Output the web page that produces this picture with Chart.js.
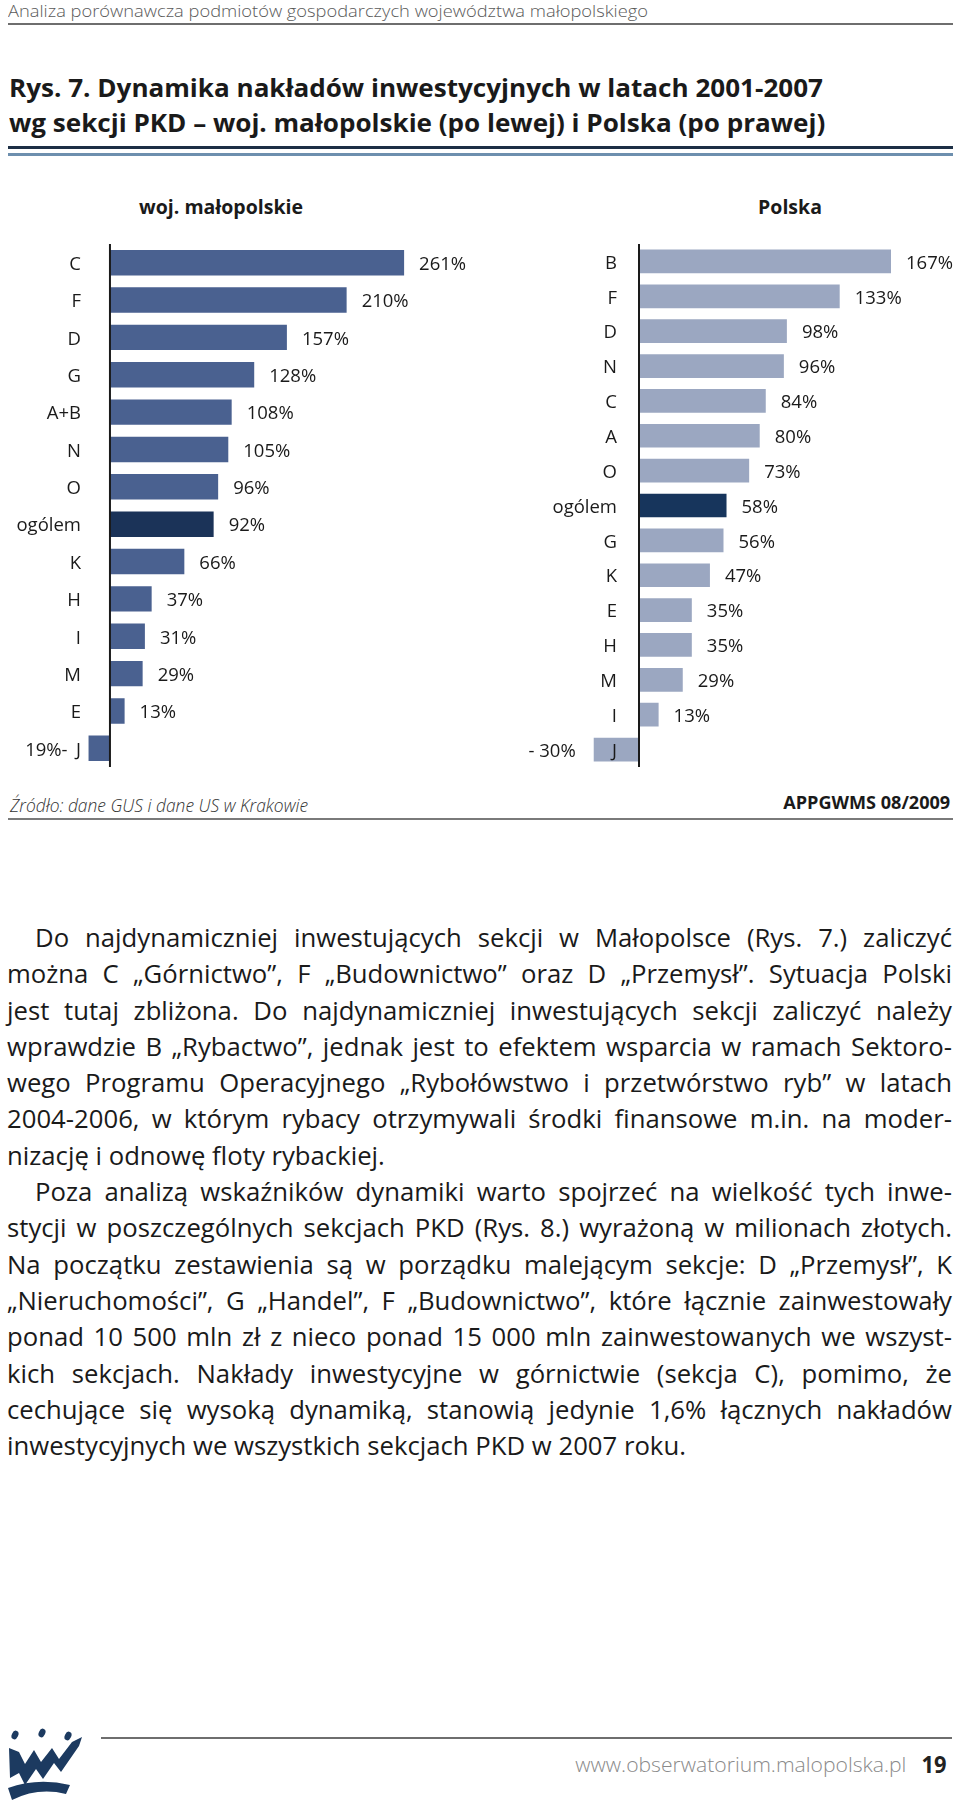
<!DOCTYPE html>
<html lang="pl">
<head>
<meta charset="utf-8">
<script src="https://cdn.jsdelivr.net/npm/chart.js@4.4.1/dist/chart.umd.min.js"></script>
<style>
  html, body { margin: 0; padding: 0; background: #fff; }
  body { width: 960px; height: 1804px; position: relative; overflow: hidden; font-family: "Open Sans", sans-serif; color: #1a1a1a; }
  .abs { position: absolute; white-space: nowrap; }
  .rule { position: absolute; }
  .fit { display: inline-block; transform-origin: left center; }
  .title { font-weight: 700; font-size: 25px; line-height: 35px; }
  .sub { font-weight: 700; font-size: 19.5px; line-height: 24px; transform: translateX(-50%); }
  .text { position: absolute; left: 7px; top: 919px; transform-origin: left top; font-size: 26px; line-height: 36.3px; }
  .ln { white-space: nowrap; }
  .ln.j { text-align: justify; text-align-last: justify; }
  canvas { position: absolute; }
</style>
</head>
<body>

<div class="abs" style="left:8px; top:0px; font-size:17px; line-height:22px; color:#5a5a5a; font-weight:300;">
  <span class="fit" data-w="640">Analiza porównawcza podmiotów gospodarczych województwa małopolskiego</span>
</div>
<div class="rule" style="left:8px; top:23px; width:945px; height:1.5px; background:#6e6e6e;"></div>

<div class="abs title" style="left:9px; top:70px;">
  <span class="fit" data-w="814">Rys. 7. Dynamika nakładów inwestycyjnych w latach 2001-2007</span>
</div>
<div class="abs title" style="left:9px; top:105px;">
  <span class="fit" data-same="814">wg sekcji PKD – woj. małopolskie (po lewej) i Polska (po prawej)</span>
</div>
<div class="rule" style="left:8px; top:146px; width:945px; height:3px; background:#1d2f45;"></div>
<div class="rule" style="left:8px; top:153px; width:945px; height:3px; background:#6d8fae;"></div>

<div class="abs sub" style="left:221px; top:195px;">woj. małopolskie</div>
<div class="abs sub" style="left:790px; top:195px;">Polska</div>

<canvas id="chartL" width="480" height="550" style="left:0px; top:230px; width:480px; height:550px;"></canvas>
<canvas id="chartR" width="480" height="550" style="left:480px; top:230px; width:480px; height:550px;"></canvas>

<div class="abs" style="left:10px; top:792px; font-size:19px; line-height:26px; font-style:italic; font-weight:300; color:#333;">
  <span class="fit" data-w="298">Źródło: dane GUS i dane US w Krakowie</span>
</div>
<div class="abs" style="right:10px; top:790px; font-size:18px; line-height:24px; font-weight:700;">
  <span class="fit" data-w="167" data-right="1">APPGWMS 08/2009</span>
</div>
<div class="rule" style="left:8px; top:818px; width:945px; height:1.5px; background:#7a7a7a;"></div>

<div class="text" id="text">
  <div class="ln j" data-indent="1">Do najdynamiczniej inwestujących sekcji w Małopolsce (Rys. 7.) zaliczyć</div>
  <div class="ln j">można C „Górnictwo”, F „Budownictwo” oraz D „Przemysł”. Sytuacja Polski</div>
  <div class="ln j">jest tutaj zbliżona. Do najdynamiczniej inwestujących sekcji zaliczyć należy</div>
  <div class="ln j">wprawdzie B „Rybactwo”, jednak jest to efektem wsparcia w ramach Sektoro-</div>
  <div class="ln j">wego Programu Operacyjnego „Rybołówstwo i przetwórstwo ryb” w latach</div>
  <div class="ln j">2004-2006, w którym rybacy otrzymywali środki finansowe m.in. na moder-</div>
  <div class="ln">nizację i odnowę floty rybackiej.</div>
  <div class="ln j" data-indent="1">Poza analizą wskaźników dynamiki warto spojrzeć na wielkość tych inwe-</div>
  <div class="ln j">stycji w poszczególnych sekcjach PKD (Rys. 8.) wyrażoną w milionach złotych.</div>
  <div class="ln j">Na początku zestawienia są w porządku malejącym sekcje: D „Przemysł”, K</div>
  <div class="ln j">„Nieruchomości”, G „Handel”, F „Budownictwo”, które łącznie zainwestowały</div>
  <div class="ln j">ponad 10 500 mln zł z nieco ponad 15 000 mln zainwestowanych we wszyst-</div>
  <div class="ln j">kich sekcjach. Nakłady inwestycyjne w górnictwie (sekcja C), pomimo, że</div>
  <div class="ln j">cechujące się wysoką dynamiką, stanowią jedynie 1,6% łącznych nakładów</div>
  <div class="ln">inwestycyjnych we wszystkich sekcjach PKD w 2007 roku.</div>
</div>

<div class="rule" style="left:101px; top:1737px; width:851px; height:1.5px; background:#6e6e6e;"></div>
<svg class="abs" style="left:6px; top:1728px;" width="82" height="74" viewBox="0 0 82 74">
  <g fill="#1c3a60">
    <ellipse cx="9" cy="7" rx="3.2" ry="4.5" transform="rotate(25 9 7)"/>
    <ellipse cx="36" cy="5" rx="3.2" ry="4.5" transform="rotate(25 36 5)"/>
    <ellipse cx="62" cy="8" rx="3.2" ry="4.5" transform="rotate(25 62 8)"/>
    <path d="M3 20 L13 24 L19 36 L28 22 L35 34 L46 20 L53 31 L66 14 L76 9 L73 18 L55 44 L48 35 L37 51 L30 41 L19 57 L13 45 L4 50 Z"/>
    <path d="M2 60 Q32 49 64 57 L60 66 Q32 59 6 72 Z"/>
  </g>
</svg>
<div class="abs" style="right:54px; top:1751px; font-size:20px; line-height:28px; font-weight:300; color:#8a8a8a;">
  <span class="fit" data-w="331" data-right="1">www.obserwatorium.malopolska.pl</span>
</div>
<div class="abs" style="right:14px; top:1749px; font-size:24px; line-height:30px; font-weight:700; color:#222;">
  <span class="fit" data-w="25" data-right="1">19</span>
</div>

<script>
// woj. małopolskie (left), top to bottom
const CATS_MLP = ["C", "F", "D", "G", "A+B", "N", "O", "ogólem", "K", "H", "I", "M", "E", "J"]
const VALS_MLP = [261, 210, 157, 128, 108, 105, 96, 92, 66, 37, 31, 29, 13, -19]

// Polska (right), top to bottom
const CATS_PL = ["B", "F", "D", "N", "C", "A", "O", "ogólem", "G", "K", "E", "H", "M", "I", "J"]
const VALS_PL = [167, 133, 98, 96, 84, 80, 73, 58, 56, 47, 35, 35, 29, 13, -30]

const TOTAL = "ogólem"

// ---- text fitting (condensed look of the original typeface) ----
function fitTexts() {
  let titleScale = 1
  document.querySelectorAll(".fit").forEach((el) => {
    const w = el.getBoundingClientRect().width
    if (el.dataset.w) {
      const s = Number(el.dataset.w) / w
      if (el.dataset.w === "814") titleScale = s
      if (el.dataset.right) el.style.transformOrigin = "right center"
      el.style.transform = `scaleX(${s})`
    }
  })
  document.querySelectorAll(".fit[data-same]").forEach((el) => {
    el.style.transform = `scaleX(${titleScale})`
  })

  const box = document.getElementById("text")
  const W = 945
  const INDENT = 28
  const lines = [...box.querySelectorAll(".ln")]
  let s = 1
  lines.forEach((ln) => {
    const span = document.createElement("span")
    span.textContent = ln.textContent
    ln.textContent = ""
    ln.appendChild(span)
    const nat = span.getBoundingClientRect().width + (ln.dataset.indent ? INDENT : 0)
    if (ln.classList.contains("j")) s = Math.min(s, W / nat)
  })
  box.style.width = W / s + "px"
  box.style.transform = `scaleX(${s})`
  lines.forEach((ln) => {
    if (ln.dataset.indent) ln.style.paddingLeft = INDENT / s + "px"
  })
}

// ---- chart plugin: zero axis, category labels, value labels ----
const barLabels = {
  id: "barLabels",
  afterDatasetsDraw(chart, args, opts) {
    const { ctx, chartArea } = chart
    const xs = chart.scales.x
    const ys = chart.scales.y
    const x0 = xs.getPixelForValue(0)
    const data = chart.data.datasets[0].data
    ctx.save()
    ctx.strokeStyle = "#1a1a1a"
    ctx.lineWidth = 2
    ctx.beginPath()
    ctx.moveTo(x0, chartArea.top)
    ctx.lineTo(x0, chartArea.bottom)
    ctx.stroke()

    ctx.font = "18.5px 'Open Sans'"
    ctx.fillStyle = "#1a1a1a"
    ctx.textBaseline = "middle"
    chart.data.labels.forEach((lab, i) => {
      const y = ys.getPixelForValue(i) + 2
      ctx.textAlign = "right"
      ctx.fillText(lab, x0 - opts.labelGap, y)
      const v = data[i]
      const xe = xs.getPixelForValue(v)
      if (v >= 0) {
        ctx.textAlign = "left"
        ctx.fillText(v + "%", xe + 15, y)
      } else {
        ctx.textAlign = "right"
        ctx.fillText(opts.negFmt(v), xe - opts.negGap, y)
      }
    })
    ctx.restore()
  },
}

function makeChart(id, cats, vals, cfg) {
  const ctx = document.getElementById(id).getContext("2d")
  return new Chart(ctx, {
    type: "bar",
    data: {
      labels: cats,
      datasets: [
        {
          data: vals,
          backgroundColor: cats.map((c) => (c === TOTAL ? cfg.totalColor : cfg.color)),
          borderWidth: 0,
          barPercentage: 0.68,
          categoryPercentage: 1,
        },
      ],
    },
    options: {
      indexAxis: "y",
      responsive: false,
      animation: false,
      devicePixelRatio: 1,
      layout: { padding: cfg.padding },
      scales: {
        x: { display: false, min: cfg.min, max: cfg.max },
        y: { display: false },
      },
      plugins: {
        legend: { display: false },
        tooltip: { enabled: false },
        barLabels: { labelGap: cfg.labelGap, negGap: cfg.negGap, negFmt: cfg.negFmt },
      },
    },
    plugins: [barLabels],
  })
}

function draw() {
  fitTexts()
  makeChart("chartL", CATS_MLP, VALS_MLP, {
    color: "#4a6190",
    totalColor: "#1b3358",
    min: -80,
    max: 320,
    padding: { left: 19.8, right: 9.4, top: 14, bottom: 13 },
    labelGap: 29,
    negGap: 21,
    negFmt: (v) => Math.abs(v) + "%-",
  })
  makeChart("chartR", CATS_PL, VALS_PL, {
    color: "#9ba7c1",
    totalColor: "#17355c",
    min: -100,
    max: 200,
    padding: { left: 8.1, right: 19.2, top: 14, bottom: 13 },
    labelGap: 22,
    negGap: 18,
    negFmt: (v) => "- " + Math.abs(v) + "%",
  })
}

if (document.fonts && document.fonts.ready) {
  document.fonts.ready.then(draw)
} else {
  draw()
}
</script>
</body>
</html>
